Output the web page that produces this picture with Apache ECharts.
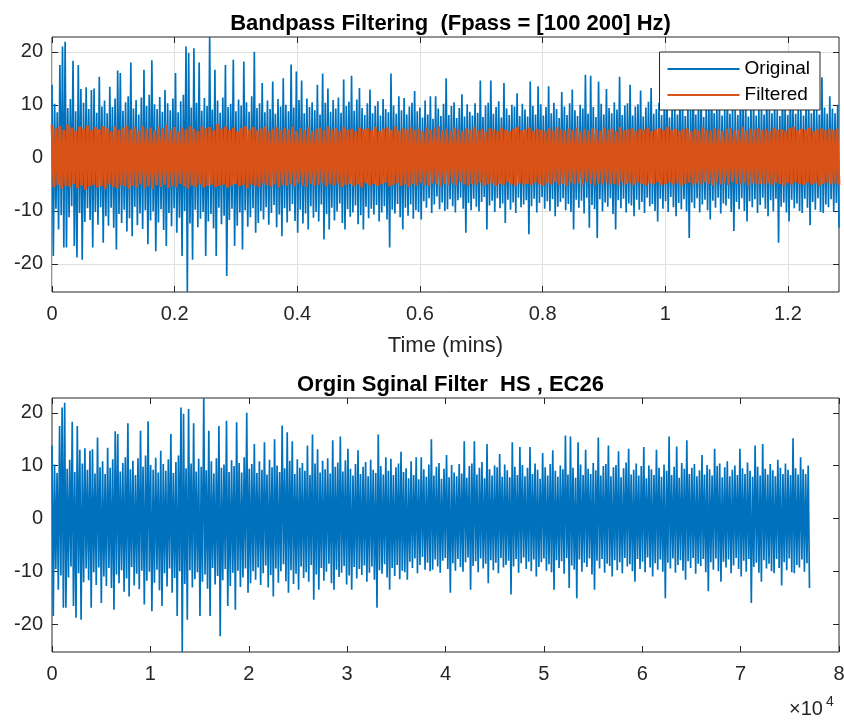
<!DOCTYPE html>
<html><head><meta charset="utf-8">
<script src="https://cdn.jsdelivr.net/npm/echarts@6/dist/echarts.min.js"></script>
<style>html,body{margin:0;padding:0;background:#fff}#c{width:844px;height:722px}</style>
</head><body><div id="c"></div><script>
// ---- data (decimated: max/min per segment) ----
const nSamples = 77000;
const sampleRate = 1000;
const titleTop = 'Bandpass Filtering  (Fpass = [100 200] Hz)';
const titleBottom = 'Orgin Sginal Filter  HS , EC26';
const legendNames = ['Original', 'Filtered'];
const xLabelTop = 'Time (mins)';
const yTicks = [-20, -10, 0, 10, 20];
const xTicksTop = [0, 0.2, 0.4, 0.6, 0.8, 1, 1.2];
const xTicksBottom = [0, 10000, 20000, 30000, 40000, 50000, 60000, 70000, 80000];

const origHi = [
13.8,10.2,8.6,17.5,21.0,21.9,9.4,11.1,18.3,8.8,17.5,13.0,10.4,13.3,9.2,12.8,13.1,8.5,15.3,9.7,
10.8,8.4,13.4,9.6,11.2,16.5,16.0,8.9,10.5,11.6,18.0,9.3,10.9,8.2,11.4,16.6,9.8,11.9,18.4,10.1,
9.2,11.5,8.7,12.8,10.3,9.0,11.2,16.0,8.6,10.7,11.9,21.0,19.8,9.5,20.7,10.4,18.0,8.9,11.3,9.8,
22.8,9.1,16.6,10.8,8.5,11.4,17.5,9.6,10.2,18.5,8.8,11.0,9.9,18.2,10.5,8.7,11.6,20.0,9.4,10.3,
14.1,8.6,10.8,9.2,14.4,8.3,11.1,9.7,15.0,10.0,8.8,17.6,9.5,16.3,10.9,14.6,8.4,11.2,9.6,10.5,
9.0,13.8,8.2,15.9,10.4,13.1,8.7,10.9,9.3,11.4,8.5,14.8,9.8,10.6,15.5,8.9,11.0,13.2,9.4,8.1,
10.3,12.9,8.4,9.8,10.7,8.0,11.1,9.2,8.6,15.9,9.9,8.3,11.6,9.0,11.3,8.2,9.7,10.4,12.6,8.8,
9.5,7.6,10.8,8.2,11.6,7.4,11.6,9.3,7.9,10.2,15.0,8.1,9.8,10.5,7.5,9.4,12.0,7.8,10.1,8.7,
8.0,10.3,8.5,14.6,7.7,9.9,10.4,14.6,8.3,9.6,10.7,7.6,14.1,9.3,8.1,10.0,9.7,12.2,7.9,10.2,
9.1,7.8,14.4,9.8,8.2,13.5,10.1,8.0,9.6,13.5,8.4,10.4,9.2,7.5,12.4,9.7,8.1,10.3,12.9,9.0,
7.9,10.0,9.3,15.7,8.3,15.5,9.6,7.7,14.4,10.2,8.2,13.0,9.4,8.4,10.5,9.1,15.3,8.1,9.9,10.3,
13.8,8.0,9.7,10.1,12.7,7.8,9.5,10.6,13.2,8.3,9.2,10.4,8.1,9.9,13.5,7.6,10.0,9.3,8.2,13.0,
9.6,7.9,10.2,9.0,15.5,8.2,9.8,13.6,7.7,10.5,9.4,14.8,8.4,9.6,10.3,8.0,9.1,12.0,8.3,10.1,
9.3,8.1,13.2,9.9,10.4,7.8,9.7,10.8,8.0,9.2,10.0,8.2,13.2,9.5,8.4,10.6,9.0,7.9,13.8,9.8,
8.1,14.1,9.4,8.3,10.3,9.1,8.0,11.1,9.6,8.4,10.4,9.2,8.2,15.2,9.5,8.3,11.6,9.3,8.4,10.0
];
const origLo = [
-18.5,-9.6,-13.5,-10.8,-16.9,-16.9,-11.2,-9.1,-16.6,-18.8,-10.4,-19.2,-12.1,-9.5,-11.7,-16.9,-10.2,-12.6,-9.3,-16.0,
-11.0,-12.8,-9.4,-13.2,-17.3,-10.6,-12.3,-9.8,-13.9,-11.4,-14.8,-9.2,-12.7,-10.5,-13.4,-9.9,-16.3,-11.8,-10.1,-17.6,
-12.2,-9.7,-13.6,-16.6,-10.4,-12.9,-9.5,-14.1,-11.3,-18.5,-10.0,-25.3,-12.4,-19.2,-9.8,-13.1,-11.5,-10.2,-18.5,-12.0,
-10.6,-13.3,-18.5,-9.4,-12.5,-10.9,-22.3,-11.7,-9.6,-16.6,-12.8,-10.3,-17.3,-9.9,-13.0,-11.2,-9.5,-14.1,-12.3,-10.0,
-11.6,-9.3,-12.6,-10.4,-8.9,-13.1,-10.7,-14.8,-9.5,-12.2,-10.0,-8.7,-11.9,-14.1,-9.8,-12.4,-10.5,-13.5,-9.1,-11.3,
-10.2,-12.0,-8.8,-15.4,-10.6,-13.5,-9.4,-11.8,-10.1,-8.6,-12.3,-13.5,-9.7,-11.1,-10.3,-9.0,-12.5,-10.8,-13.5,-9.2,
-11.4,-9.6,-10.7,-8.9,-12.0,-10.3,-9.1,-11.6,-16.9,-9.8,-10.5,-8.7,-11.2,-13.5,-9.4,-10.9,-8.8,-11.5,-9.9,-10.2,
-11.6,-8.2,-9.4,-7.6,-10.4,-8.8,-7.3,-9.7,-8.4,-10.0,-9.7,-7.8,-9.1,-10.3,-8.0,-7.5,-9.6,-14.1,-8.5,-9.9,
-7.7,-9.2,-10.1,-8.3,-7.4,-13.5,-9.0,-8.1,-10.2,-7.6,-9.5,-8.6,-12.3,-7.9,-9.8,-8.4,-10.4,-7.5,-9.3,-8.8,
-8.0,-14.4,-9.1,-7.7,-10.3,-8.5,-7.4,-9.6,-8.2,-10.0,-7.8,-11.0,-9.2,-8.3,-7.6,-9.9,-8.7,-10.2,-13.5,-7.9,
-9.4,-8.1,-10.5,-7.5,-13.2,-8.9,-9.7,-15.1,-7.8,-10.1,-8.4,-9.2,-7.6,-10.6,-13.5,-8.0,-9.5,-7.7,-10.3,-8.6,
-9.0,-11.0,-7.9,-9.8,-8.3,-10.4,-7.5,-9.1,-8.7,-10.0,-12.0,-7.7,-9.6,-8.2,-10.2,-7.4,-9.3,-11.0,-8.5,-9.7,
-7.8,-10.1,-15.1,-8.4,-9.5,-7.6,-10.3,-8.8,-7.9,-9.9,-11.6,-8.1,-9.4,-7.5,-10.5,-8.6,-9.0,-7.7,-10.2,-13.8,
-8.3,-9.7,-7.6,-10.0,-12.0,-8.2,-9.3,-7.8,-10.4,-8.9,-7.5,-9.6,-11.0,-8.0,-10.1,-7.7,-16.0,-9.2,-8.4,-10.3,
-12.0,-7.9,-9.5,-8.6,-10.0,-10.4,-7.7,-9.4,-12.7,-8.3,-9.8,-7.6,-10.2,-10.4,-8.8,-9.3,-7.8,-10.1,-8.5,-13.2
];
const filtHi = [
6.2,5.6,6.0,5.3,6.3,5.7,5.1,5.9,5.5,6.1,5.2,5.8,5.4,6.0,5.6,5.0,5.9,5.3,5.7,6.1,
5.4,5.8,5.1,6.0,5.5,5.7,5.2,5.9,5.6,6.2,5.3,5.8,5.0,5.7,5.4,6.0,5.5,5.1,5.9,5.6,
5.8,5.2,6.4,5.5,5.9,5.3,5.7,5.0,5.6,6.0,5.4,5.8,5.2,5.6,5.9,5.1,5.5,5.8,5.3,5.7,
5.4,5.9,5.1,5.6,5.3,5.8,5.0,5.5,5.7,5.2,5.9,5.4,5.6,5.1,5.8,5.3,5.5,5.0,5.7,5.4,
5.6,5.2,5.8,5.0,5.5,5.7,5.3,5.9,5.1,5.6,5.4,5.8,5.2,5.5,5.0,5.7,5.3,5.6,5.9,5.2,
5.5,5.1,5.7,5.4,5.0,5.6,5.3,5.8,5.2,5.5,4.9,5.6,5.4,5.1,5.7,5.3,5.0,5.5,5.8,5.2,
5.4,5.7,5.1,5.5,5.3,5.0,5.6,5.2,5.8,5.4,5.1,5.6,5.3,5.7,5.0,5.5,5.2,5.6,5.4,5.1,
5.7,5.3,5.5,5.0,5.8,5.2,5.4,5.6,5.1,5.5,5.3,5.7,5.0,5.4,5.6,5.2,5.8,5.3,5.5,5.1,
5.4,5.6,5.0,5.5,5.2,5.7,5.3,5.1,5.6,5.4,5.0,5.5,5.7,5.2,5.4,5.8,5.1,5.5,5.3,5.6,
5.2,5.5,5.0,5.7,5.3,5.4,5.1,5.6,5.8,5.2,5.5,5.3,5.7,5.0,5.4,5.6,5.2,5.5,5.3,5.6
];
const filtLo = [
-5.6,-5.1,-5.8,-5.3,-5.5,-4.9,-5.7,-5.2,-6.0,-5.4,-5.1,-5.6,-5.3,-5.9,-5.0,-5.5,-5.7,-5.2,-5.4,-5.8,
-5.3,-5.6,-5.0,-5.7,-5.4,-5.9,-5.2,-5.5,-5.1,-5.7,-5.3,-5.6,-4.9,-5.4,-5.8,-5.2,-5.5,-5.0,-5.6,-5.3,
-5.1,-5.5,-5.3,-5.0,-5.6,-5.2,-4.9,-5.4,-5.1,-5.7,-5.0,-5.3,-5.5,-4.8,-5.2,-5.4,-5.0,-5.6,-5.1,-5.3,
-5.0,-5.4,-4.8,-5.2,-5.5,-4.9,-5.3,-5.1,-4.7,-5.4,-5.0,-5.2,-4.8,-5.5,-5.1,-4.9,-5.3,-5.0,-5.6,-4.8,
-5.2,-4.9,-5.3,-5.0,-4.7,-5.4,-5.1,-4.8,-5.3,-5.0,-5.5,-4.9,-5.2,-4.7,-5.1,-5.3,-4.8,-5.0,-5.4,-4.9,
-5.1,-4.8,-5.2,-4.6,-5.0,-5.3,-4.9,-5.1,-4.7,-5.2,-5.0,-4.8,-5.3,-4.9,-5.1,-4.6,-5.0,-5.2,-4.8,-5.0,
-4.9,-5.1,-4.7,-5.0,-5.2,-4.8,-5.0,-4.6,-5.1,-4.9,-5.3,-4.7,-5.0,-4.8,-5.1,-4.6,-4.9,-5.2,-4.8,-5.0,
-4.7,-5.0,-4.9,-5.2,-4.6,-5.0,-4.8,-5.1,-4.7,-4.9,-5.2,-4.8,-5.0,-4.6,-5.1,-4.9,-4.7,-5.0,-4.8,-5.2,
-4.9,-4.7,-5.1,-4.8,-5.0,-4.6,-4.9,-5.2,-4.7,-5.0,-4.8,-5.1,-4.6,-4.9,-5.0,-4.7,-5.2,-4.8,-5.0,-4.9,
-5.0,-4.8,-5.1,-4.7,-4.9,-5.2,-4.8,-5.0,-4.6,-4.9,-5.1,-4.7,-5.0,-4.8,-5.2,-4.9,-4.7,-5.0,-4.8,-5.1
];

// ---- build series: alternate max/min of each segment at their sample index ----
function buildSeries(hi, lo, toX) {
  const n = hi.length * 2;
  const pts = [];
  for (let i = 0; i < hi.length; i++) {
    const s0 = Math.round((2 * i) * (nSamples - 1) / (n - 1));
    const s1 = Math.round((2 * i + 1) * (nSamples - 1) / (n - 1));
    pts.push([toX(s0), hi[i]]);
    pts.push([toX(s1), lo[i]]);
  }
  return pts;
}
const toMins = s => s / sampleRate / 60;
const toIdx = s => s;

const yMin = Math.min.apply(null, origLo);
const yMax = Math.max.apply(null, origHi);
const xMaxMins = nSamples / sampleRate / 60;

const FONT = 'Liberation Sans, Arial, Helvetica, sans-serif';
const AX = '#262626';
const BLUE = '#0072BD';
const ORANGE = '#D95319';

const chart = echarts.init(document.getElementById('c'), null, {renderer: 'canvas'});

const tickOf = vals => ({show: true, inside: true, length: 6, customValues: vals, lineStyle: {color: AX, width: 1}});
const noLine = {show: false, onZero: false};
const lbl = {color: AX, fontFamily: FONT, fontSize: 20};

const grids = [
  {left: 52, top: 37, width: 787, height: 255, show: true, borderColor: AX, borderWidth: 1,
   backgroundColor: 'transparent', outerBoundsMode: 'none', containLabel: false},
  {left: 52, top: 398, width: 787, height: 254, show: true, borderColor: AX, borderWidth: 1,
   backgroundColor: 'transparent', outerBoundsMode: 'none', containLabel: false}
];

const xAxes = [
  {type: 'value', gridIndex: 0, min: 0, max: xMaxMins, interval: 0.2, position: 'bottom',
   axisLine: noLine, axisTick: tickOf(xTicksTop),
   axisLabel: Object.assign({margin: 12, customValues: xTicksTop, formatter: v => String(+(+v).toFixed(1))}, lbl),
   splitLine: {show: true, lineStyle: {color: '#dfdfdf', width: 1}},
   name: xLabelTop, nameLocation: 'middle', nameGap: 43,
   nameTextStyle: {color: AX, fontFamily: FONT, fontSize: 22}},
  {type: 'value', gridIndex: 0, min: 0, max: xMaxMins, interval: 0.2, position: 'top',
   axisLine: noLine, axisTick: tickOf(xTicksTop), axisLabel: {show: false}, splitLine: {show: false}},
  {type: 'value', gridIndex: 1, min: 0, max: 80000, interval: 10000, position: 'bottom',
   axisLine: noLine, axisTick: tickOf(xTicksBottom),
   axisLabel: Object.assign({margin: 12, customValues: xTicksBottom, formatter: v => String(Math.round(v / 10000))}, lbl),
   splitLine: {show: false}},
  {type: 'value', gridIndex: 1, min: 0, max: 80000, interval: 10000, position: 'top',
   axisLine: noLine, axisTick: tickOf(xTicksBottom), axisLabel: {show: false}, splitLine: {show: false}}
];

const yAxes = [
  {type: 'value', gridIndex: 0, min: yMin, max: yMax, splitNumber: 5, position: 'left',
   axisLine: noLine, axisTick: tickOf(yTicks),
   axisLabel: Object.assign({margin: 9, customValues: yTicks, formatter: v => String(Math.round(v))}, lbl),
   splitLine: {show: true, lineStyle: {color: '#dfdfdf', width: 1}}},
  {type: 'value', gridIndex: 0, min: yMin, max: yMax, splitNumber: 5, position: 'right',
   axisLine: noLine, axisTick: tickOf(yTicks), axisLabel: {show: false}, splitLine: {show: false}},
  {type: 'value', gridIndex: 1, min: yMin, max: yMax, splitNumber: 5, position: 'left',
   axisLine: noLine, axisTick: tickOf(yTicks),
   axisLabel: Object.assign({margin: 9, customValues: yTicks, formatter: v => String(Math.round(v))}, lbl),
   splitLine: {show: false}},
  {type: 'value', gridIndex: 1, min: yMin, max: yMax, splitNumber: 5, position: 'right',
   axisLine: noLine, axisTick: tickOf(yTicks), axisLabel: {show: false}, splitLine: {show: false}}
];

const lineCommon = {type: 'line', symbol: 'none', showSymbol: false, silent: true, animation: false,
  clip: true, sampling: null, large: false, progressive: 0};

chart.setOption({
  animation: false,
  backgroundColor: '#fff',
  title: [
    {text: titleTop, left: 445.5, top: 8, textAlign: 'center',
     textStyle: {color: '#000', fontFamily: FONT, fontSize: 22, fontWeight: 'bold'}},
    {text: titleBottom, left: 445.5, top: 369, textAlign: 'center',
     textStyle: {color: '#000', fontFamily: FONT, fontSize: 22, fontWeight: 'bold'}}
  ],
  legend: {
    data: legendNames, orient: 'vertical', right: 24, top: 52,
    padding: [7, 10, 5, 8], itemGap: 6, itemWidth: 72, itemHeight: 2, icon: 'rect',
    backgroundColor: '#fff', borderColor: AX, borderWidth: 1, borderRadius: 0,
    textStyle: {color: '#000', fontFamily: FONT, fontSize: 19, lineHeight: 20},
    selectedMode: false
  },
  grid: grids,
  xAxis: xAxes,
  yAxis: yAxes,
  series: [
    Object.assign({}, lineCommon, {name: legendNames[0], xAxisIndex: 0, yAxisIndex: 0,
      data: buildSeries(origHi, origLo, toMins), lineStyle: {color: BLUE, width: 1.7}, itemStyle: {color: BLUE}, z: 2}),
    Object.assign({}, lineCommon, {name: legendNames[1], xAxisIndex: 0, yAxisIndex: 0,
      data: buildSeries(filtHi, filtLo, toMins), lineStyle: {color: ORANGE, width: 2.8}, itemStyle: {color: ORANGE}, z: 3}),
    Object.assign({}, lineCommon, {name: 'Signal', xAxisIndex: 2, yAxisIndex: 2,
      data: buildSeries(origHi, origLo, toIdx), lineStyle: {color: BLUE, width: 1.7}, itemStyle: {color: BLUE}, z: 2})
  ],
  graphic: [
    {type: 'text', left: 789, top: 699, style: {text: '\u00d710', font: '20px ' + FONT, fill: AX}},
    {type: 'text', left: 826, top: 695, style: {text: '4', font: '14px ' + FONT, fill: AX}}
  ]
});
</script></body></html>
